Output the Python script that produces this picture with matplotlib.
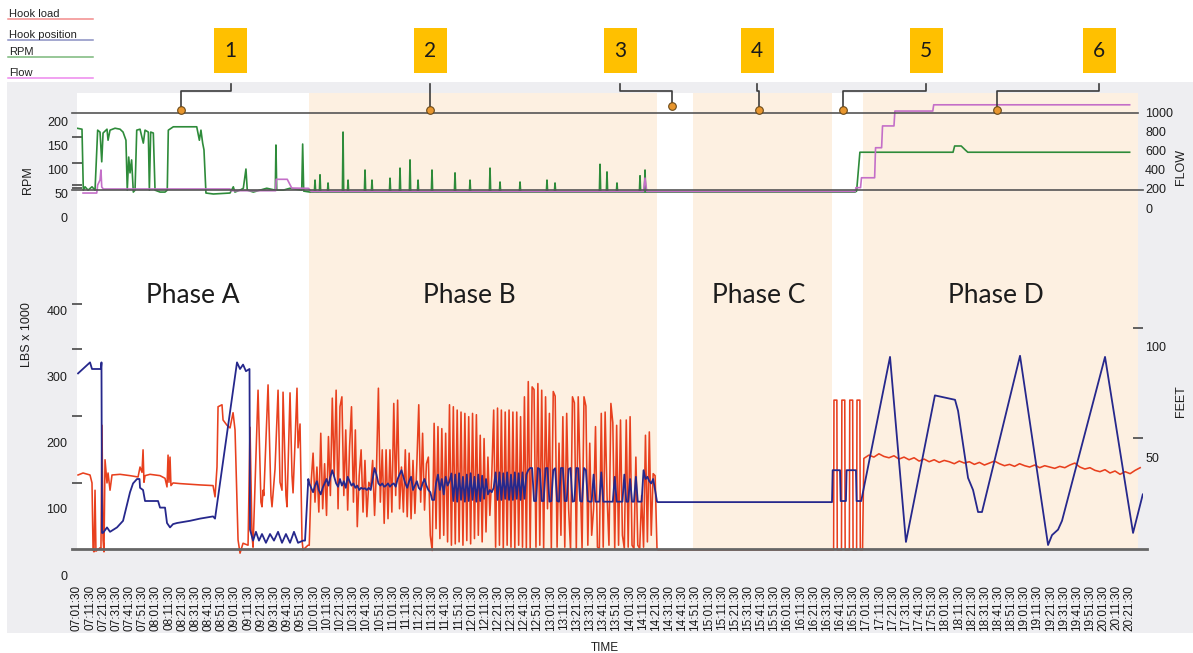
import numpy as np
import matplotlib
matplotlib.use("Agg")
import matplotlib.pyplot as plt
from matplotlib.patches import Rectangle

plt.rcParams['font.family'] = ['Liberation Sans', 'DejaVu Sans']

W, H = 1193, 653
PX_PER_MIN = 1 / 0.76      # horizontal scale of the time axis
T_END = (1143 - 77) * 0.76  # right end of the data axes, minutes

# ---------------- data: time in minutes after 07:01:30 ----------------
rpm_t = [0, 3.8, 4.8, 6.1, 8.4, 11.4, 13.7, 15.7, 17.5, 18.8, 19.8, 22.8, 23.6, 25.1, 28.9,
         32.7, 35, 37.2, 38.2, 39.3, 40.3, 41.5, 42.8, 44.1, 45.4, 47.9, 50.4, 51.7, 54.2,
         55, 56, 58, 59.3, 63.1, 66.9, 68.6, 69.4, 73.2, 83.4, 91, 93, 94.2, 95.5, 96.5, 98,
         103.6, 116.3, 118.8, 120, 123.9, 126.4, 128.4, 129.4, 134, 139, 144.2, 150.7, 151.2,
         151.8, 156.8, 161.9, 170.8, 171.5, 172.3, 177, 591.3, 592.5, 595, 665.8, 667, 672,
         675, 677, 800]
rpm_v = [187, 185, 58, 65, 58, 65, 58, 183, 179, 117, 177, 185, 162, 183, 187,
         185, 179, 162, 58, 127, 94, 121, 54, 58, 183, 185, 156, 183, 179,
         58, 179, 177, 58, 54, 54, 58, 183, 190, 190, 190, 162, 183, 156, 142, 52,
         50, 52, 65, 54, 58, 62, 102, 58, 54, 58, 62, 58, 152,
         58, 58, 62, 58, 154, 56, 54, 54, 56, 137, 137, 150, 150,
         142, 137, 137]
# short RPM spikes during phase B, on a baseline of about 54 rpm
rpm_spike_t = [180.9, 184.7, 190.8, 202.2, 206, 218.9, 224.2, 237.9, 245.5, 253.1, 259.2,
               269.8, 287.3, 298.7, 313.9, 321.5, 336.7, 357.2, 363.3, 397.5, 402.8, 410.4,
               427.9, 431.7]
rpm_spike_v = [79, 90, 73, 179, 79, 100, 79, 83, 104, 121, 79, 100, 94, 79, 104, 75, 75, 79,
               73, 112, 96, 73, 88, 100]
rpm_base_b = 54

flow_t = [4.6, 15, 15.7, 17.5, 18.2, 18.8, 20, 116.3, 117, 151, 151.4, 159.8, 163.2, 176, 178,
          430.5, 431.7, 433, 591.4, 592, 595.5, 596.2, 606.2, 606.9, 611.5, 612.2, 620.9,
          621.6, 650.4, 651.1, 800]
flow_v = [156, 156, 240, 292, 396, 219, 198, 198, 180, 180, 299, 299, 208, 205, 172,
          172, 312, 172, 172, 212, 212, 315, 315, 628, 628, 855, 855,
          1010, 1010, 1075, 1075]

# hook load (lbs x 1000)
load_a_t = [0.8, 4.6, 9.9, 11.4, 12.2, 12.9, 13.7, 14.4, 17.5, 18.2, 19, 19.8, 20.5, 21.3, 22.8,
            23.6, 25.1, 26.6, 32.7, 40.3, 46.4, 47.9, 49.4, 50.2, 50.9, 51.7, 55.5, 63.1, 66.9,
            68.4, 69.2, 69.9, 70.7, 71.4, 73, 78.3, 93.5, 103.4, 104.9, 106.4, 107.2, 110.2,
            111, 114, 116.3, 118.6, 120.1, 122.4, 123.9, 126.2, 130, 131.5, 133, 133.8, 137.6,
            139.8, 140.6, 141.4, 142, 145.2, 147.4, 148.2, 150.5, 152.8, 154.3, 155.8, 156.6,
            158.8, 159.6, 161.9, 163.4, 164.2, 165.7, 167.2, 168, 169.5, 171, 171.8, 174, 175.6]
load_a_v = [151, 154, 151, 139, 38, 35, 128, 36, 41, 40, 226, 53, 35, 174, 139,
            154, 128, 151, 152, 150, 148, 163, 155, 189, 140, 150, 152, 150, 146,
            133, 181, 140, 178, 135, 139, 138, 136, 135, 118, 163, 254, 257,
            234, 226, 222, 245, 219, 53, 33, 48, 45, 223, 60, 42, 279,
            110, 103, 128, 120, 287, 120, 103, 160, 279, 140, 128, 276,
            120, 103, 275, 150, 124, 200, 282, 192, 228, 53, 38, 42, 45]
# phase B, regular samples from 176.5 to 440.8 min
load_b = [45, 140, 184, 110, 163, 95, 214, 100, 168, 90, 209, 120, 267, 150, 279, 100, 254,
          269, 120, 219, 98, 194, 254, 110, 219, 73, 150, 189, 95, 173, 88, 140, 133,
          173, 90, 160, 282, 110, 189, 78, 189, 85, 189, 95, 259, 120, 264, 100,
          163, 95, 189, 88, 184, 85, 173, 93, 168, 257, 110, 214, 98, 168, 178, 60, 37,
          229, 70, 224, 55, 221, 60, 214, 50, 257,
          45, 254, 47, 249, 50, 246, 45, 244, 52, 239, 47, 244, 55, 242, 60, 211, 50, 206, 65,
          178, 90,
          150, 249, 42, 252, 45, 249, 40, 246, 45, 249, 42, 246, 40, 246, 45, 239, 42, 269, 40,
          292,
          40, 284, 280, 42, 289, 45, 279, 40, 269, 100, 244, 40, 277, 270, 42, 199, 60, 239, 42,
          244, 100, 38, 269, 260, 40, 269, 150, 40, 269, 255, 45, 199, 60,
          100, 224, 42, 40, 244, 42, 246, 120, 45, 259, 230, 40, 226, 45, 234, 60, 40, 234, 42,
          239, 45, 40, 178, 45, 40, 120, 42, 211, 50, 216, 60, 153, 150, 40]
load_cd_t = [441.5, 575, 575.3, 577.5, 577.8, 581, 581.3, 583.5, 583.8, 587, 587.3, 589.5, 589.8,
             592.5, 592.8, 595, 595.3, 597]
load_cd_v = [38, 38, 264, 264, 38, 38, 264, 264, 38, 38, 264, 264, 38, 38, 264, 264, 38, 38]
# phase D, regular samples from 598 to 808 min
load_d = [176, 181, 178, 183, 179, 177, 180, 175, 178, 174, 177, 172, 175, 171, 174, 170, 173,
          171, 168, 172, 169, 171, 167, 170, 166, 169, 172, 168, 165, 167, 164, 168, 165, 163,
          166, 162, 165, 163, 161, 164, 162, 166, 169, 163, 160, 162, 158, 156, 159, 154, 157,
          152, 156, 153, 158, 162]

# hook position (feet)
pos_a_t = [0.8, 9.9, 11.4, 18.2, 18.6, 19, 19.8, 22.8, 25.1, 30.4, 35, 40.3, 42.6, 45.6, 47.5,
           47.9, 50.2, 51.7, 61.6, 63.1, 66.9, 68.4, 70.7, 73, 76, 85.9, 93.5, 103.4, 104.9,
           121.6, 123.9, 126.2, 128.4, 131.1, 131.5, 133.8, 136, 138.3, 140.6, 143.6, 146.7,
           149.7, 152.8, 155.8, 158.8, 161.9, 164.9, 168, 171.8, 173.3, 175.8]
pos_a_v = [88, 93, 90, 90, 93, 15.5, 15.5, 18, 16, 18, 21, 34, 38, 40, 40,
           36, 35, 30, 30, 27, 27, 20, 18, 19.5, 20, 21, 22, 23, 22,
           93, 90, 92, 89, 90, 17, 12, 16, 12, 15, 11, 15,
           12, 16, 11, 15, 11, 16, 11, 12, 12, 40]
pos_b = [38, 36, 34, 37, 39, 35, 33, 36, 38, 40, 37, 41, 44,
         41, 38, 36.5, 40, 37, 39, 36,
         41, 39, 37, 38, 36, 37, 35, 36, 35.5, 35.8,
         35, 36, 35, 40, 45, 42, 38, 37,
         38, 36.5, 37, 38, 36.5, 37.5, 38, 36.5, 40, 42, 44,
         41, 38, 36, 39, 41, 35, 37, 39, 36, 35, 38, 40, 37, 35, 34, 30.5, 30.5,
         38, 42, 35, 40, 33, 41, 37, 39,
         42.5, 30, 42, 29.7, 42.6, 30.5, 41, 29.7, 42, 30, 42.6, 30.5, 41, 29.7, 42, 30, 41.5,
         31, 40, 33, 35, 34,
         36, 43, 30.5, 43, 30.5, 42.6, 31, 43, 30.5, 42, 30.5, 43, 31, 42.6, 30.5, 43, 31, 42, 44,
         45, 45, 30, 30, 45, 44.5, 30, 30, 44.9, 45, 29.7, 30, 44, 44.9, 30, 29.7, 45, 45, 30,
         30, 44.5, 45, 29.7, 30, 45, 44.9, 30, 29.7, 45, 44, 30, 29.7, 29.7,
         42, 29.7, 29.7, 29.7, 43, 29.7, 29.7, 29.7, 29.7, 29.7, 29.7, 41, 29.7, 29.7, 29.7,
         29.7, 42, 29.7, 29.7, 40, 29.7, 29.7, 41, 29.7, 29.7, 29.7, 44, 40, 41, 39, 38, 40,
         35, 29.7]
pos_cd_t = [441.5, 573.8, 574.3, 579.9, 580.4, 584.4, 584.9, 592, 592.5, 596, 617.9, 630, 652,
            659.7, 667.3, 669.6, 677.2, 681, 684.8, 687.8, 716.7, 738, 741, 745.6, 748.6,
            781.3, 802.6, 810]
pos_cd_v = [29.5, 29.5, 44, 44, 30, 30, 44, 44, 30, 30, 95.5, 11.4, 78,
            77, 76, 71, 40.5, 35, 25, 25, 96, 10, 14.5, 17, 21,
            95.5, 15.5, 33]

phase_names = ["Phase A", "Phase B", "Phase C", "Phase D"]
phase_start = [0, 176, 468, 597]
phase_end = [176, 441, 574, 806]
phase_shaded = [False, True, True, True]
phase_label_t = [88, 298, 518, 698]

event_labels = ["1", "2", "3", "4", "5", "6"]
event_t = [79, 268.3, 452.2, 518.3, 582.2, 699.2]
box_cx = [230.5, 430, 620, 757, 926, 1099]

rpm_ticks = [0, 50, 100, 150, 200]
flow_ticks = [0, 200, 400, 600, 800, 1000]
lbs_ticks = [0, 100, 200, 300, 400]
feet_ticks = [50, 100]

tick_t = np.arange(0, 801, 10)
tick_lab = [f"{(421 + m) // 60:02d}:{(421 + m) % 60:02d}:30" for m in tick_t]

legend_names = ["Hook load", "Hook position", "RPM", "Flow"]
legend_colors = ["#f28b8b", "#8a8fc2", "#7ab87a", "#ee88ee"]


def frac(x0, y0, x1, y1):
    return [x0 / W, 1 - y1 / H, (x1 - x0) / W, (y1 - y0) / H]


def px(t):
    return 77 + t * PX_PER_MIN


def add_spikes(t, v, st, sv, base, half=0.5):
    tt, vv = list(t), list(v)
    for a, b in zip(st, sv):
        tt += [a - half, a, a + half]
        vv += [base, b, base]
    order = np.argsort(tt, kind="stable")
    return np.array(tt)[order], np.array(vv)[order]


def clean(ax):
    for s in ax.spines.values():
        s.set_visible(False)


load_t = np.concatenate([load_a_t, np.linspace(176.5, 440.8, len(load_b)),
                         load_cd_t, np.linspace(598, 808, len(load_d))])
load_v = np.concatenate([load_a_v, load_b, load_cd_v, load_d])
pos_t = np.concatenate([pos_a_t, np.linspace(176.5, 440.8, len(pos_b)), pos_cd_t])
pos_v = np.concatenate([pos_a_v, pos_b, pos_cd_v])

fig = plt.figure(figsize=(W / 100, H / 100), dpi=100)

# grey panel behind everything
under = fig.add_axes([0, 0, 1, 1], zorder=-5, label="under")
under.set_xlim(0, W)
under.set_ylim(H, 0)
under.axis("off")
under.add_patch(Rectangle((7, 82), W - 7, 551, color="#eeeef1", lw=0))

# phase shading
bg = fig.add_axes(frac(77, 93, 1138, 549), zorder=-4, label="bg")
bg.set_xlim(0, (1138 - 77) * 0.76)
bg.set_ylim(0, 1)
bg.set_facecolor("white")
bg.set_xticks([])
bg.set_yticks([])
clean(bg)
for name, a, b, shaded, lt in zip(phase_names, phase_start, phase_end, phase_shaded, phase_label_t):
    if shaded:
        bg.axvspan(a, b, color="#fdf0e1", lw=0)
    bg.text(lt, 0.555, name, ha="center", va="center", fontsize=19,
            family=["Lato", "DejaVu Sans"], color="#1c1c1c")

# top panel: RPM / flow
ax_top = fig.add_axes(frac(77, 93, 1143, 225), label="top")
ax_top.set_facecolor("none")
clean(ax_top)
ax_top.set_xlim(0, T_END)
ax_top.set_ylim(-14.6, 260.4)
rt, rv = add_spikes(rpm_t, rpm_v, rpm_spike_t, rpm_spike_v, rpm_base_b)
ax_top.plot(rt, rv, color="#2e8b3a", lw=1.2)
ax_top.set_xticks([])
ax_top.set_yticks(rpm_ticks)
ax_top.set_yticks([62, 69, 115, 169], minor=True)
ax_top.tick_params(axis="y", which="major", length=0, pad=6.5, labelsize=9, labelcolor="#1e1e1e")
ax_top.tick_params(axis="y", which="minor", direction="inout", length=7, width=1.3, color="#555")

ax_top_r = ax_top.twinx()
clean(ax_top_r)
ax_top_r.set_ylim(-177, 1198)
ax_top_r.plot(flow_t, flow_v, color="#c46fc8", lw=1.2)
ax_top_r.axhline(985, xmin=-0.005, xmax=0.995, color="#555", lw=1.2, clip_on=False)
ax_top_r.axhline(190, xmin=-0.005, xmax=1.0, color="#555", lw=1.2, clip_on=False)
ax_top_r.set_yticks(flow_ticks)
ax_top_r.set_yticks(flow_ticks[1:], minor=True)
ax_top_r.tick_params(axis="y", which="major", length=0, pad=1.5, labelsize=9, labelcolor="#1e1e1e")
ax_top_r.tick_params(axis="y", which="minor", direction="in", length=7, width=1.3, color="#555")

# bottom panel: hook load / hook position
ax_low = fig.add_axes(frac(77, 290, 1143, 580), label="low")
ax_low.set_facecolor("none")
clean(ax_low)
ax_low.set_xlim(0, T_END)
ax_low.set_ylim(-7.5, 430.2)
ax_low.plot(load_t, load_v, color="#e8401e", lw=1.15, zorder=2)
ax_low.axhline(39, xmin=-0.005, xmax=1.004, color="#666", lw=2, zorder=3, clip_on=False)
ax_low.set_xticks(tick_t)
ax_low.set_xticklabels(tick_lab, rotation=90, fontsize=8.5, color="#161616")
ax_low.tick_params(axis="x", length=0, pad=3.6)
ax_low.set_yticks(lbs_ticks)
ax_low.set_yticks([139, 240, 341, 409], minor=True)
ax_low.tick_params(axis="y", which="major", length=0, pad=7, labelsize=9, labelcolor="#1e1e1e")
ax_low.tick_params(axis="y", which="minor", direction="inout", length=7, width=1.3, color="#555")

ax_low_r = ax_low.twinx()
clean(ax_low_r)
ax_low_r.set_ylim(-5.9, 125.9)
ax_low_r.plot(pos_t, pos_v, color="#26288c", lw=1.3)
ax_low_r.set_yticks(feet_ticks)
ax_low_r.set_yticks([58.6, 108.6], minor=True)
ax_low_r.tick_params(axis="y", which="major", length=0, pad=1.5, labelsize=9, labelcolor="#1e1e1e")
ax_low_r.tick_params(axis="y", which="minor", direction="in", length=7, width=1.3, color="#555")

# axis titles
fig.text(27.5 / W, 1 - 180 / H, "RPM", rotation=90, ha="center", va="center", fontsize=9, color="#1e1e1e")
fig.text(27 / W, 1 - 335 / H, "LBS x 1000", rotation=90, ha="center", va="center", fontsize=9, color="#1e1e1e")
fig.text(1181 / W, 1 - 167 / H, "FLOW", rotation=90, ha="center", va="center", fontsize=9, color="#1e1e1e")
fig.text(1181 / W, 1 - 401 / H, "FEET", rotation=90, ha="center", va="center", fontsize=9, color="#1e1e1e")
fig.text(605 / W, 1 - 648 / H, "TIME", ha="center", va="center", fontsize=8.5, color="#1e1e1e")

# legend, numbered callouts
ann = fig.add_axes([0, 0, 1, 1], zorder=10, label="ann")
ann.set_xlim(0, W)
ann.set_ylim(H, 0)
ann.set_facecolor("none")
ann.axis("off")
for name, c, y in zip(legend_names, legend_colors, [19, 40, 57, 78]):
    ann.plot([8, 93], [y, y], color=c, lw=1.1)
    ann.text(9, y - 2, name, fontsize=8, va="baseline", color="#222")

for lab, cx, t in zip(event_labels, box_cx, event_t):
    ann.add_patch(Rectangle((cx - 16.5, 28), 33, 45, color="#ffc000", lw=0))
    ann.text(cx, 51, lab, ha="center", va="center", fontsize=15,
             family=["Lato", "DejaVu Sans"], color="#1a1a1a")
    dx = px(t)
    dy = 106 if lab == "3" else 110
    ann.plot([cx, cx, dx, dx], [84, 91, 91, dy], color="#3c3c3c", lw=1.2)
    ann.plot(dx, dy, "o", ms=5.5, mfc="#e8962e", mec="#6b4a1a", mew=0.8)

fig.savefig("out.png", dpi=100)
